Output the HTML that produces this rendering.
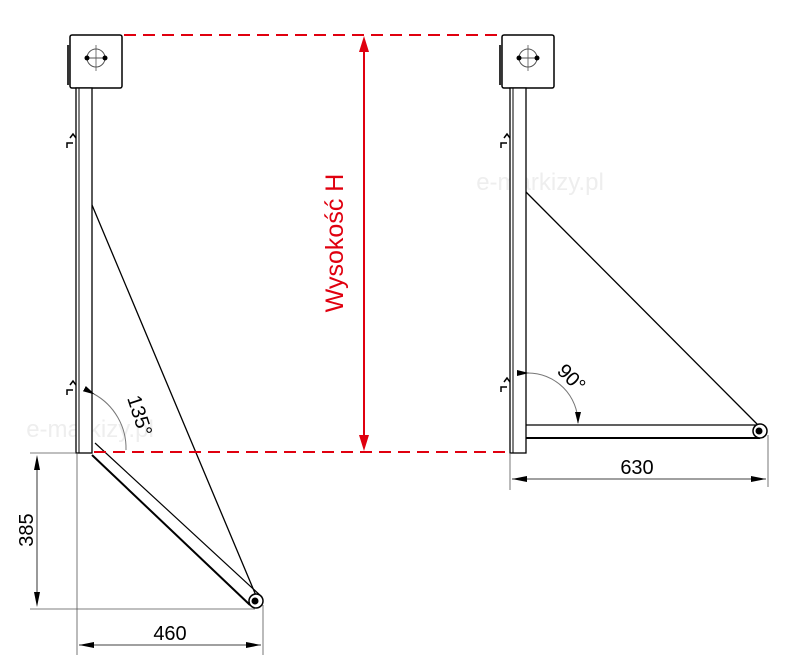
<!DOCTYPE html>
<html><head><meta charset="utf-8"><style>
html,body{margin:0;padding:0;background:#fff;}
svg{display:block;}
text{font-family:"Liberation Sans",Arial,sans-serif;}
</style></head><body>
<svg width="800" height="667" viewBox="0 0 800 667" xmlns="http://www.w3.org/2000/svg">
<defs>
<marker id="a" markerWidth="12" markerHeight="8" refX="11" refY="4" orient="auto" markerUnits="userSpaceOnUse"><path d="M0,1 L12,4 L0,7 Z" fill="#000"/></marker>
<marker id="r" markerWidth="14" markerHeight="10" refX="13" refY="5" orient="auto" markerUnits="userSpaceOnUse"><path d="M0,1 L14,5 L0,9 Z" fill="#e0000f"/></marker>
</defs>
<!-- watermarks -->
<text x="540" y="190" font-size="24" fill="#eee" text-anchor="middle">e-markizy.pl</text>
<text x="90" y="437" font-size="24" fill="#eee" text-anchor="middle">e-markizy.pl</text>

<!-- LEFT -->
<rect x="70" y="35" width="52" height="53" rx="2" fill="#fff" stroke="#000" stroke-width="1.5"/>
<rect x="67" y="45" width="3" height="40" fill="#333"/>
<circle cx="96" cy="58" r="9" fill="none" stroke="#555" stroke-width="1"/>
<line x1="96" y1="45" x2="96" y2="71" stroke="#555" stroke-width="0.8"/>
<line x1="86" y1="58" x2="106" y2="58" stroke="#555"/>
<circle cx="87" cy="58" r="2.5"/><circle cx="105" cy="58" r="2.5"/>
<rect x="76" y="88" width="16" height="365" fill="#fff" stroke="#000" stroke-width="1.3"/>
<line x1="79" y1="88" x2="79" y2="453" stroke="#000" stroke-width="1"/>
<path d="M70,138 l3,-4 l3,4 M67,148 l0,-5 l6,0" stroke="#000" stroke-width="1.5" fill="none"/>
<path d="M70,385 l3,-4 l3,4 M67,395 l0,-5 l6,0" stroke="#000" stroke-width="1.5" fill="none"/>
<line x1="92" y1="205" x2="257" y2="598" stroke="#000" stroke-width="1.3"/>
<line x1="92" y1="455" x2="250" y2="605" stroke="#000" stroke-width="2"/>
<line x1="95" y1="443" x2="262" y2="597" stroke="#000" stroke-width="1.2"/>
<circle cx="256" cy="601" r="7" fill="#fff" stroke="#000" stroke-width="1.5"/>
<circle cx="255" cy="601" r="3.5"/>
<path d="M94,394 A62,62 0 0 1 126,450" fill="none" stroke="#777" stroke-width="1" marker-start="url(#a)"/>
<text x="0" y="0" font-size="20" transform="translate(127,398) rotate(72)">135°</text>

<!-- left dims -->
<line x1="30" y1="453" x2="76" y2="453" stroke="#555" stroke-width="0.8"/>
<line x1="30" y1="609" x2="255" y2="609" stroke="#555" stroke-width="0.8"/>
<line x1="37" y1="470" x2="37" y2="592" stroke="#000" stroke-width="0.8"/>
<path d="M37,455 l-3,15 h6 Z M37,607 l-3,-15 h6 Z"/>
<line x1="77" y1="453" x2="77" y2="655" stroke="#555" stroke-width="0.8"/>
<line x1="263" y1="605" x2="263" y2="655" stroke="#555" stroke-width="0.8"/>
<line x1="79" y1="645" x2="261" y2="645"  stroke="#000" stroke-width="0.8"/>
<path d="M79,645 l15,-3 v6 Z M261,645 l-15,-3 v6 Z"/>
<text x="170" y="640" font-size="20" text-anchor="middle">460</text>
<text font-size="20" text-anchor="middle" transform="translate(33,530) rotate(-90)">385</text>

<!-- RED -->
<line x1="124" y1="35" x2="502" y2="35" stroke="#e0000f" stroke-width="2" stroke-dasharray="12,7"/>
<line x1="94" y1="452" x2="510" y2="452" stroke="#e0000f" stroke-width="2" stroke-dasharray="12,7"/>
<line x1="364" y1="50" x2="364" y2="437" stroke="#e0000f" stroke-width="2"/>
<path d="M364,36 l-5,16 h10 Z M364,451 l-5,-16 h10 Z" fill="#e0000f"/>
<text font-size="25" fill="#e0000f" text-anchor="middle" transform="translate(343,243) rotate(-90)">Wysokość H</text>

<!-- RIGHT -->
<rect x="502" y="35" width="52" height="53" rx="2" fill="#fff" stroke="#000" stroke-width="1.5"/>
<rect x="499" y="45" width="3" height="40" fill="#333"/>
<circle cx="528" cy="58" r="9" fill="none" stroke="#555" stroke-width="1"/>
<line x1="528" y1="45" x2="528" y2="71" stroke="#555" stroke-width="0.8"/>
<line x1="518" y1="58" x2="538" y2="58" stroke="#555"/>
<circle cx="519" cy="58" r="2.5"/><circle cx="537" cy="58" r="2.5"/>
<rect x="510" y="88" width="16" height="365" fill="#fff" stroke="#000" stroke-width="1.3"/>
<line x1="513" y1="88" x2="513" y2="453" stroke="#000" stroke-width="1"/>
<path d="M504,138 l3,-4 l3,4 M501,148 l0,-5 l6,0" stroke="#000" stroke-width="1.5" fill="none"/>
<path d="M504,382 l3,-4 l3,4 M501,392 l0,-5 l6,0" stroke="#000" stroke-width="1.5" fill="none"/>
<line x1="526" y1="192" x2="758" y2="425" stroke="#000" stroke-width="1.3"/>
<line x1="526" y1="425" x2="760" y2="425" stroke="#000" stroke-width="1.2"/>
<line x1="526" y1="438" x2="760" y2="438" stroke="#000" stroke-width="2"/>
<circle cx="760" cy="431" r="7" fill="#fff" stroke="#000" stroke-width="1.5"/>
<circle cx="759" cy="431" r="3.5"/>
<path d="M528,373 A50,50 0 0 1 578,423" fill="none" stroke="#777" stroke-width="1" marker-start="url(#a)" marker-end="url(#a)"/>
<text font-size="20" transform="translate(556,372) rotate(45)">90°</text>
<line x1="510" y1="453" x2="510" y2="490" stroke="#555" stroke-width="0.8"/>
<line x1="768" y1="435" x2="768" y2="487" stroke="#555" stroke-width="0.8"/>
<line x1="512" y1="479" x2="766" y2="479" stroke="#000" stroke-width="0.8"/>
<path d="M512,479 l15,-3 v6 Z M766,479 l-15,-3 v6 Z"/>
<text x="637" y="474" font-size="20" text-anchor="middle">630</text>
</svg>
</body></html>
